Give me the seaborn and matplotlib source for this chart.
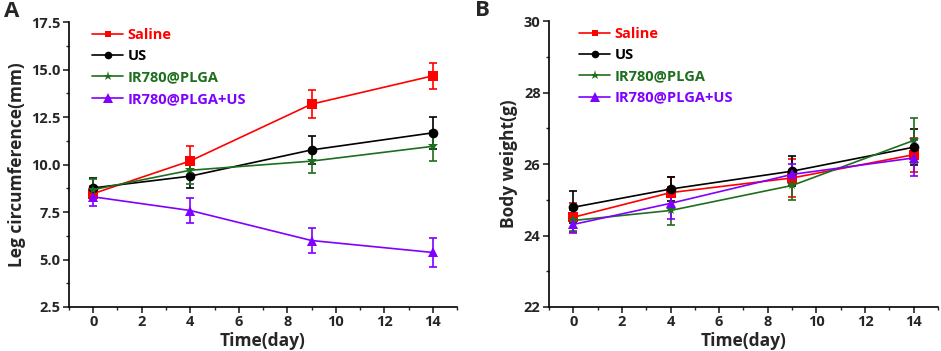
import seaborn as sns
import matplotlib.pyplot as plt
import pandas as pd
from matplotlib.ticker import MultipleLocator

days = [0, 4, 9, 14]
groups = ["Saline", "US", "IR780@PLGA", "IR780@PLGA+US"]

leg_saline = [8.47, 10.19, 13.18, 14.67]
leg_saline_sd = [0.40, 0.80, 0.73, 0.67]
leg_us = [8.77, 9.39, 10.77, 11.67]
leg_us_sd = [0.50, 0.60, 0.74, 0.83]
leg_ir780 = [8.68, 9.70, 10.18, 10.96]
leg_ir780_sd = [0.55, 0.70, 0.62, 0.79]
leg_ir780_us = [8.30, 7.58, 6.00, 5.37]
leg_ir780_us_sd = [0.48, 0.65, 0.67, 0.75]

bw_saline = [24.51, 25.20, 25.61, 26.26]
bw_saline_sd = [0.40, 0.43, 0.54, 0.48]
bw_us = [24.79, 25.30, 25.80, 26.47]
bw_us_sd = [0.45, 0.33, 0.42, 0.50]
bw_ir780 = [24.42, 24.70, 25.40, 26.66]
bw_ir780_sd = [0.30, 0.40, 0.42, 0.63]
bw_ir780_us = [24.31, 24.90, 25.71, 26.17]
bw_ir780_us_sd = [0.25, 0.45, 0.28, 0.50]

colors = ["#ff0000", "#000000", "#1e6e1e", "#8000ff"]
markers = ["s", "o", "*", "^"]
msizes = [5.5, 6.5, 7.5, 7.5]
leg_msizes = [4.5, 5.5, 6.5, 6.5]

sns.set_theme(style="ticks")
plt.rcParams["font.family"] = ["Open Sans", "DejaVu Sans"]
plt.rcParams["font.weight"] = "bold"


def long_df(vals, sds):
    rows = []
    for g, v, s in zip(groups, vals, sds):
        for d, y, e in zip(days, v, s):
            rows.append({"day": d, "value": y, "sd": e, "group": g})
    return pd.DataFrame(rows)


df_leg = long_df([leg_saline, leg_us, leg_ir780, leg_ir780_us],
                 [leg_saline_sd, leg_us_sd, leg_ir780_sd, leg_ir780_us_sd])
df_bw = long_df([bw_saline, bw_us, bw_ir780, bw_ir780_us],
                [bw_saline_sd, bw_us_sd, bw_ir780_sd, bw_ir780_us_sd])

fig = plt.figure(figsize=(9.41, 3.51), dpi=100)
ax_a = fig.add_axes([0.0733, 0.1254, 0.4124, 0.8116])
ax_b = fig.add_axes([0.5834, 0.1254, 0.4134, 0.8146])


def draw(ax, df, ylim, ymajor, ylabel, label, label_x, leg_x):
    for g, c in zip(groups, colors):
        sub = df[df.group == g]
        ax.errorbar(sub.day, sub.value, yerr=sub.sd, fmt="none", ecolor=c,
                    elinewidth=1.2, capsize=3, capthick=1.2, zorder=2)
    sns.lineplot(ax=ax, data=df, x="day", y="value", hue="group", style="group",
                 hue_order=groups, style_order=groups, palette=colors,
                 markers=dict(zip(groups, markers)), dashes=False,
                 markersize=7, markeredgewidth=0, linewidth=1.2, zorder=3)
    for line, ms in zip(ax.lines[-4:], msizes):
        line.set_markersize(ms)

    ax.set_xlim(-1, 15)
    ax.set_ylim(*ylim)
    ax.xaxis.set_major_locator(MultipleLocator(2))
    ax.xaxis.set_minor_locator(MultipleLocator(1))
    ax.yaxis.set_major_locator(MultipleLocator(ymajor))
    ax.yaxis.set_minor_locator(MultipleLocator(ymajor / 2))
    ax.tick_params(which="major", direction="out", length=4, width=1.2,
                   labelsize=10.5, pad=2)
    ax.tick_params(which="minor", direction="out", length=2.5, width=1)
    for lab in ax.get_xticklabels() + ax.get_yticklabels():
        lab.set_fontweight("bold")
    sns.despine(ax=ax)
    for s in ("left", "bottom"):
        ax.spines[s].set_linewidth(1.2)
        ax.spines[s].set_color("black")

    ax.set_xlabel("Time(day)", fontsize=12.5, fontweight="bold", labelpad=2)
    ax.set_ylabel(ylabel, fontsize=12.5, fontweight="bold", labelpad=4)

    leg = ax.legend(loc="upper left", bbox_to_anchor=(leg_x, 1.0), frameon=False,
                    fontsize=10.5, handlelength=2.1, handletextpad=0.3,
                    labelspacing=0.5, borderaxespad=0.0)
    for t, c in zip(leg.get_texts(), colors):
        t.set_color(c)
        t.set_fontweight("bold")
    for h, ms in zip(leg.legend_handles, leg_msizes):
        h.set_markersize(ms)

    ax.text(label_x, 1.0, label, transform=ax.transAxes, fontsize=16,
            fontweight="bold", ha="left", va="bottom")


draw(ax_a, df_leg, (2.5, 17.5), 2.5, "Leg circumference(mm)", "A", -0.168, 0.045)
draw(ax_b, df_bw, (22, 30), 2, "Body weight(g)", "B", -0.19, 0.063)

fig.savefig("out.png", dpi=100)
